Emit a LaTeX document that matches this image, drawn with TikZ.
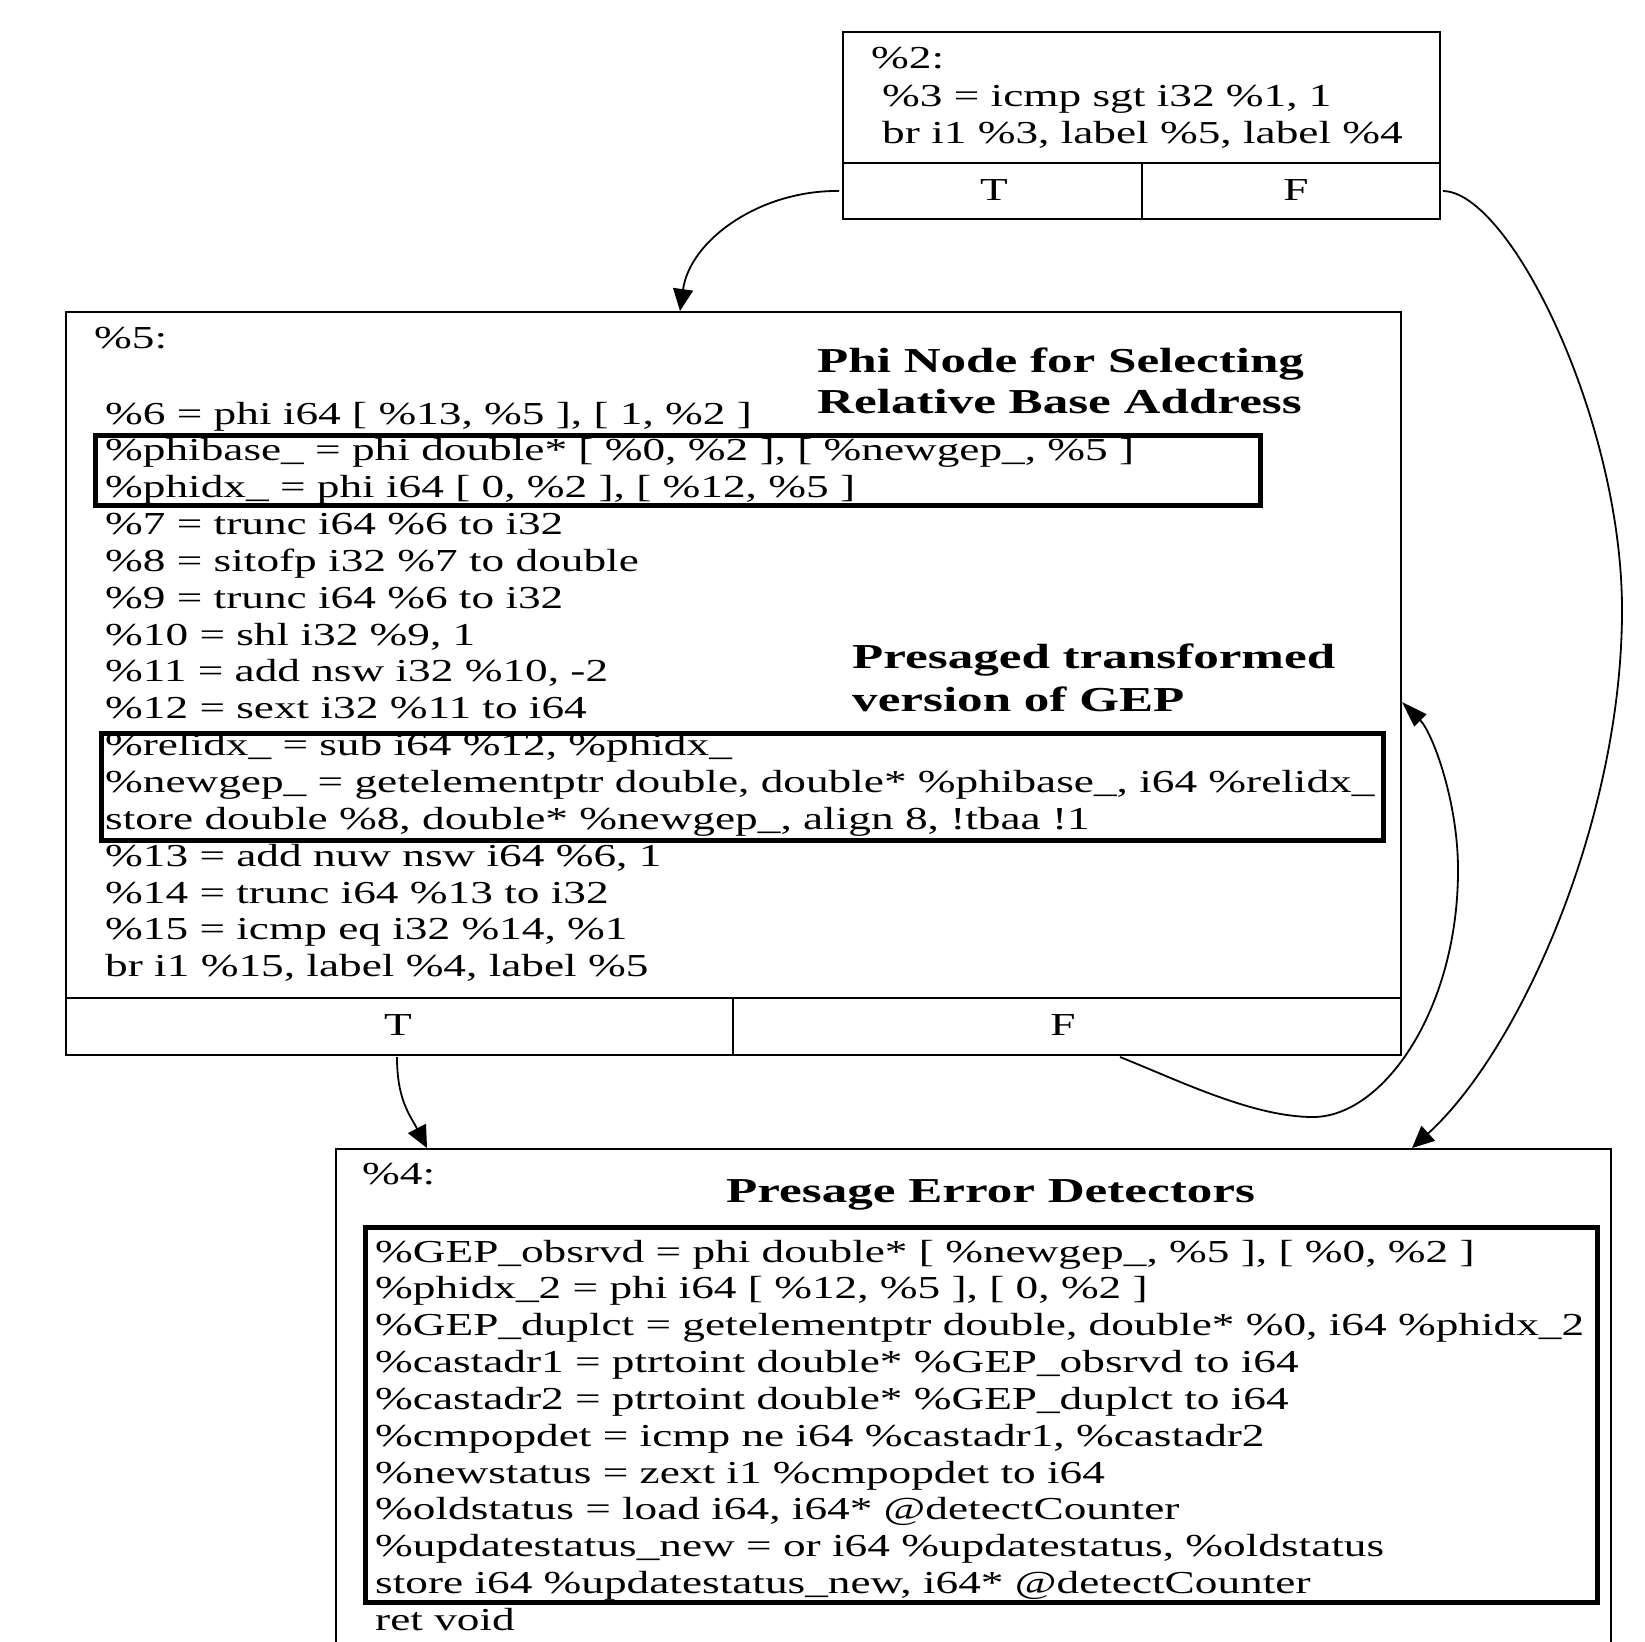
\documentclass[tikz,border=0pt]{standalone}
\usepackage{fontspec}
\newfontfamily\gv[FakeStretch=1.415]{Liberation Serif}
\newfontfamily\gvb[FakeStretch=1.46]{Liberation Serif}
\usetikzlibrary{arrows.meta}
\tikzset{
  blk/.style={draw, line width=2pt, inner sep=0pt, anchor=north west},
  hlbox/.style={draw, line width=5pt},
  divline/.style={line width=2pt},
  code/.style={anchor=base west, inner sep=0pt, font=\gv\fontsize{32}{36.85}\selectfont},
  portlbl/.style={anchor=base, inner sep=0pt, font=\gv\fontsize{32}{36.85}\selectfont},
  note/.style={anchor=base west, inner sep=0pt, font=\gvb\bfseries\fontsize{35}{42}\selectfont},
  flow/.style={line width=1.8pt, -{Triangle[length=22pt,width=20pt]}},
  flowside/.style={line width=1.8pt, -{Triangle[length=26pt,width=17pt]}},
}
\begin{document}
\begin{tikzpicture}[x=1pt,y=-1pt]
\useasboundingbox (0,0) rectangle (1645,1641);
\clip (0,0) rectangle (1645,1641);
\fill[white] (0,0) rectangle (1645,1641);

% ---------- block %2 ----------
\node[blk, minimum width=597, minimum height=187] (b2) at (842,31) {};
\draw[divline] (842,163) -- (1439,163);
\draw[divline] (1142,163) -- (1142,218);
\node[code] (t2a) at (871,68) {\%2:};
\node[code] (t2b) at (882,106) {\%3 = icmp sgt i32 \%1, 1};
\node[code] (t2c) at (882,143) {br i1 \%3, label \%5, label \%4};
\node[portlbl] (p2T) at (994,200) {T};
\node[portlbl] (p2F) at (1296,200) {F};

% ---------- block %5 ----------
\node[blk, minimum width=1335, minimum height=743] (b5) at (65,311) {};
\draw[divline] (65,998) -- (1400,998);
\draw[divline] (733,998) -- (733,1054);
\node[code] (t5h) at (94,348) {\%5:};
\node[code] (t5a) at (105,424) {\%6 = phi i64 [ \%13, \%5 ], [ 1, \%2 ]};
\node[code] (t5b) at (105,460.85) {\%phibase\_ = phi double* [ \%0, \%2 ], [ \%newgep\_, \%5 ]};
\node[code] (t5c) at (105,497.7) {\%phidx\_ = phi i64 [ 0, \%2 ], [ \%12, \%5 ]};
\node[code] (t5d) at (105,534.55) {\%7 = trunc i64 \%6 to i32};
\node[code] (t5e) at (105,571.4) {\%8 = sitofp i32 \%7 to double};
\node[code] (t5f) at (105,608.25) {\%9 = trunc i64 \%6 to i32};
\node[code] (t5g) at (105,645.1) {\%10 = shl i32 \%9, 1};
\node[code] (t5h2) at (105,681.95) {\%11 = add nsw i32 \%10, -2};
\node[code] (t5i) at (105,718.8) {\%12 = sext i32 \%11 to i64};
\node[code] (t5j) at (105,755.65) {\%relidx\_ = sub i64 \%12, \%phidx\_};
\node[code] (t5k) at (105,792.5) {\%newgep\_ = getelementptr double, double* \%phibase\_, i64 \%relidx\_};
\node[code] (t5l) at (105,829.35) {store double \%8, double* \%newgep\_, align 8, !tbaa !1};
\node[code] (t5m) at (105,866.2) {\%13 = add nuw nsw i64 \%6, 1};
\node[code] (t5n) at (105,903.05) {\%14 = trunc i64 \%13 to i32};
\node[code] (t5o) at (105,939.9) {\%15 = icmp eq i32 \%14, \%1};
\node[code] (t5p) at (105,976.75) {br i1 \%15, label \%4, label \%5};
\node[portlbl] (p5T) at (398,1035) {T};
\node[portlbl] (p5F) at (1063,1035) {F};
\draw[hlbox] (95.5,435) rectangle (1260,505.5);
\draw[hlbox] (101,733) rectangle (1383,840);
\node[note] (n1a) at (817,372) {Phi Node for Selecting};
\node[note] (n1b) at (817,413) {Relative Base Address};
\node[note] (n2a) at (852,668) {Presaged transformed};
\node[note] (n2b) at (852,711) {version of GEP};

% ---------- block %4 ----------
\node[blk, minimum width=1275, minimum height=560] (b4) at (335,1148) {};
\node[code] (t4h) at (362,1184) {\%4:};
\node[note] (n3) at (726,1202) {Presage Error Detectors};
\draw[hlbox] (365.5,1227.5) rectangle (1597,1602);
\node[code] (t4a) at (375,1262) {\%GEP\_obsrvd = phi double* [ \%newgep\_, \%5 ], [ \%0, \%2 ]};
\node[code] (t4b) at (375,1298.85) {\%phidx\_2 = phi i64 [ \%12, \%5 ], [ 0, \%2 ]};
\node[code] (t4c) at (375,1335.7) {\%GEP\_duplct = getelementptr double, double* \%0, i64 \%phidx\_2};
\node[code] (t4d) at (375,1372.55) {\%castadr1 = ptrtoint double* \%GEP\_obsrvd to i64};
\node[code] (t4e) at (375,1409.4) {\%castadr2 = ptrtoint double* \%GEP\_duplct to i64};
\node[code] (t4f) at (375,1446.25) {\%cmpopdet = icmp ne i64 \%castadr1, \%castadr2};
\node[code] (t4g) at (375,1483.1) {\%newstatus = zext i1 \%cmpopdet to i64};
\node[code] (t4h2) at (375,1519.95) {\%oldstatus = load i64, i64* @detectCounter};
\node[code] (t4i) at (375,1556.8) {\%updatestatus\_new = or i64 \%updatestatus, \%oldstatus};
\node[code] (t4j) at (375,1593.65) {store i64 \%updatestatus\_new, i64* @detectCounter};
\node[code] (t4k) at (375,1630.5) {ret void};

% ---------- ports ----------
\coordinate (b2Tout) at (839,191);
\coordinate (b2Fout) at (1443,191);
\coordinate (b5in) at (680,311);
\coordinate (b5Tout) at (397,1057);
\coordinate (b5Fout) at (1120,1057);
\coordinate (b5side) at (1402,702);
\coordinate (b4inL) at (427,1148);
\coordinate (b4inR) at (1412,1148);

% ---------- edges ----------
\draw[flow] (b2Tout) .. controls (760,190) and (690,240) .. (b5in);
\draw[flow] (b2Fout) .. controls (1510,192) and (1622,420) .. (1622,610)
  .. controls (1622,820) and (1520,1050) .. (b4inR);
\draw[flow] (b5Tout) .. controls (397,1100) and (410,1115) .. (b4inL);
\draw[flowside] (b5Fout) .. controls (1180,1081) and (1253,1117) .. (1313,1117)
  .. controls (1383,1117) and (1458,1010) .. (1458,870)
  .. controls (1458,800) and (1432,732) .. (b5side);
\end{tikzpicture}
\end{document}
